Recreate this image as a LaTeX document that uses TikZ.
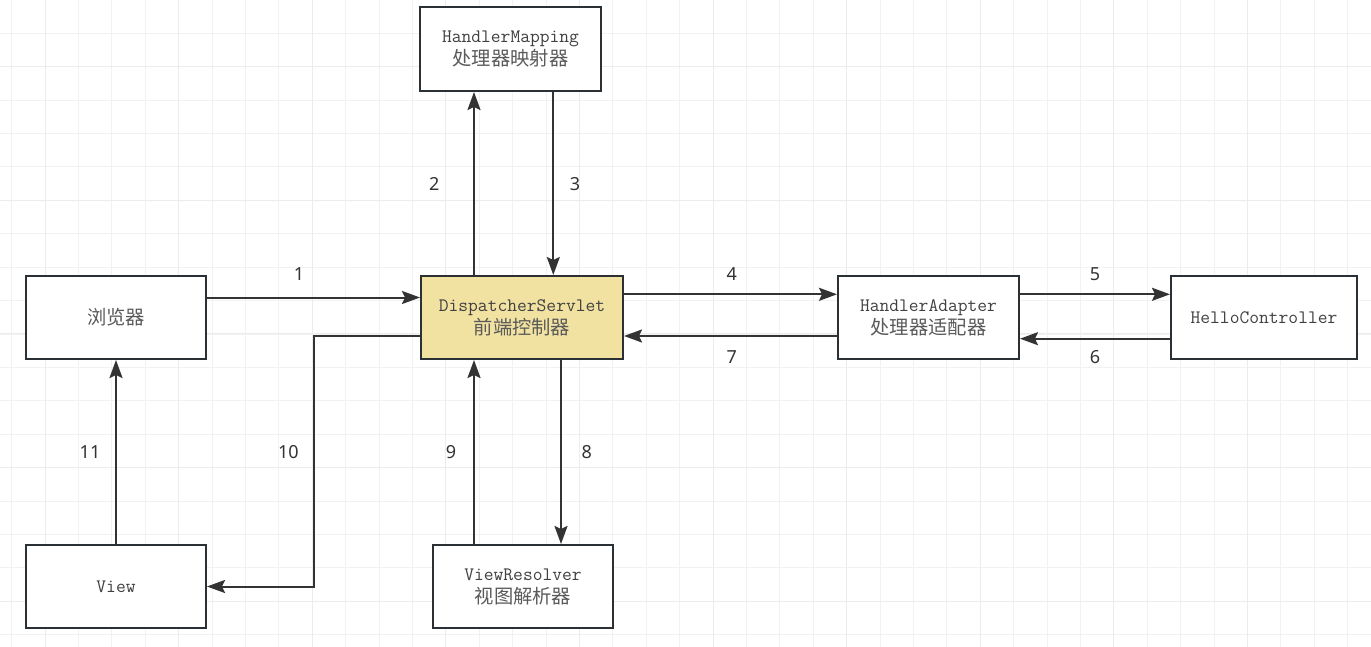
\documentclass[tikz,border=0pt]{standalone}
\usepackage{fontspec}
\newfontfamily\lat{Latin Modern Mono}
\newfontfamily\cjk{Noto Sans CJK SC}
\newfontfamily\dig{Noto Sans}
\usetikzlibrary{arrows.meta}
\definecolor{gridminor}{HTML}{F2F2F2}
\definecolor{gridmajor}{HTML}{ECECEC}
\definecolor{boxline}{HTML}{2B3035}
\definecolor{arrline}{HTML}{333333}
\definecolor{txt}{HTML}{404040}
\definecolor{cjktxt}{HTML}{5A5A5A}
\definecolor{dsfill}{HTML}{F1E2A2}
\newcommand{\lt}[1]{{\lat\fontsize{19}{23}\selectfont #1}}
\newcommand{\cj}[1]{{\color{cjktxt}\cjk\fontsize{19.3}{23}\selectfont #1}}
\begin{document}
\begin{tikzpicture}[x=1pt,y=-1pt,
  box/.style={draw=boxline, line width=2pt, fill=white, inner sep=0pt,
    align=center, text=txt, font=\lat\fontsize{19}{23}\selectfont,
    minimum height=83pt},
  arr/.style={draw=arrline, line width=2pt, -{Stealth[length=18pt,width=13pt,inset=3pt]}},
  num/.style={text=arrline, font=\dig\fontsize{18}{18}\selectfont, inner sep=0pt},
  minor/.style={draw=gridminor, line width=1pt},
  major/.style={draw=gridmajor, line width=1pt}]
\useasboundingbox (0,0) rectangle (1371,647);
\fill[white] (0,0) rectangle (1371,647);
% grid
\foreach \i in {0,...,41} \draw[minor] ({11.6+33.4*\i},0) -- ({11.6+33.4*\i},647);
\foreach \j in {0,...,19} \draw[minor] (0,{33.4*\j}) -- (1371,{33.4*\j});
\foreach \i in {0,...,9} \draw[major] ({45+133.6*\i},0) -- ({45+133.6*\i},647);
\foreach \j in {0,...,4} \draw[major] (0,{66.7+133.6*\j}) -- (1371,{66.7+133.6*\j});
% boxes
\node[box, minimum width=181pt, minimum height=84pt] (hm) at (510.5,49) {\lt{HandlerMapping}\\\cj{处理器映射器}};
\node[box, minimum width=202pt, fill=dsfill] (ds) at (522,317.5) {\lt{DispatcherServlet}\\\cj{前端控制器}};
\node[box, minimum width=181pt] (ha) at (928.5,317.5) {\lt{HandlerAdapter}\\\cj{处理器适配器}};
\node[box, minimum width=186pt] (hc) at (1264,317.5) {\lt{HelloController}};
\node[box, minimum width=180pt] (br) at (116,317.5) {\cj{浏览器}};
\node[box, minimum width=180pt] (view) at (116,586.5) {\lt{View}};
\node[box, minimum width=180pt] (vr) at (523,586.5) {\lt{ViewResolver}\\\cj{视图解析器}};
% helper coordinates
\coordinate (x2) at (474,0);
\coordinate (x3) at (553.3,0);
\coordinate (x8) at (561,0);
\coordinate (y4) at (0,294.3);
\coordinate (y7) at (0,336);
\coordinate (y6) at (0,338.7);
\coordinate (k10) at (314.3,450);
% connectors
\draw[arr] ([yshift=20pt]br.east) -- ([yshift=20pt]ds.west);
\draw[arr] (x2 |- ds.north) -- (x2 |- hm.south);
\draw[arr] (x3 |- hm.south) -- (x3 |- ds.north);
\draw[arr] (y4 -| ds.east) -- (y4 -| ha.west);
\draw[arr] (y4 -| ha.east) -- (y4 -| hc.west);
\draw[arr] (y6 -| hc.west) -- (y6 -| ha.east);
\draw[arr] (y7 -| ha.west) -- (y7 -| ds.east);
\draw[arr] (x8 |- ds.south) -- (x8 |- vr.north);
\draw[arr] (x2 |- vr.north) -- (x2 |- ds.south);
\draw[arr] ([yshift=-18pt]ds.west) -| (k10) |- (view.east);
\draw[arr] (view.north) -- (br.south);
% labels
\node[num] (l1) at (299,274) {1};
\node[num] (l2) at (434.3,184) {2};
\node[num] (l3) at (575,184) {3};
\node[num] (l4) at (731.7,274.3) {4};
\node[num] (l5) at (1095,274) {5};
\node[num] (l6) at (1095,357) {6};
\node[num] (l7) at (731.7,356.7) {7};
\node[num] (l8) at (586.7,452) {8};
\node[num] (l9) at (451,452.3) {9};
\node[num] (l10) at (288.3,452) {10};
\node[num] (l11) at (90,452) {11};
\end{tikzpicture}
\end{document}
